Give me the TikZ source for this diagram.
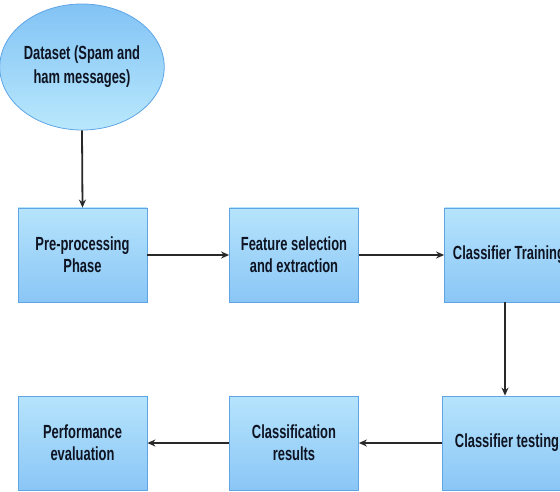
\documentclass[tikz,border=0pt]{standalone}
\usepackage{fontspec}
\setmainfont{Liberation Sans}[FakeStretch=0.68]
\usetikzlibrary{shapes.geometric,arrows.meta}
\definecolor{boxtop}{RGB}{182,228,252}
\definecolor{boxbot}{RGB}{138,198,246}
\definecolor{boxedge}{RGB}{95,165,230}
\definecolor{elltop}{RGB}{130,195,245}
\definecolor{ellbot}{RGB}{185,232,252}
\definecolor{linec}{RGB}{40,40,40}
\definecolor{txtc}{RGB}{15,20,35}
\tikzset{
  procbox/.style={rectangle, draw=boxedge, line width=0.8pt, top color=boxtop, bottom color=boxbot,
    minimum width=129pt, minimum height=94pt, align=center, text=txtc, font=\fontsize{19}{22}\selectfont\bfseries, inner sep=0pt},
  dataell/.style={ellipse, draw=boxedge, line width=0.8pt, top color=elltop, bottom color=ellbot,
    minimum width=149pt, minimum height=126pt, align=center, text=txtc, font=\fontsize{19}{24}\selectfont\bfseries, inner sep=0pt},
  conn/.style={draw=linec, line width=1.8pt, -{Stealth[length=8pt,width=7pt]}}
}
\begin{document}
\begin{tikzpicture}[x=1pt,y=-1pt]
\useasboundingbox (0,0) rectangle (560,492);
\clip (0,0) rectangle (560,492);
\node[dataell] (ds) at (82,67) {Dataset (Spam and\\ham messages)};
\node[procbox] (pre) at (82.5,255) {Pre-processing\\Phase};
\node[procbox] (feat) at (294,255) {Feature selection\\and extraction};
\node[procbox] (train) at (509,255) {Classifier Training};
\node[procbox] (test) at (507,443) {Classifier testing};
\node[procbox] (res) at (294,443) {Classification\\results};
\node[procbox] (perf) at (82.5,443) {Performance\\evaluation};
\draw[conn] (ds.south) -- (pre.north);
\draw[conn] (pre.east) -- (feat.west);
\draw[conn] (feat.east) -- (train.west);
\draw[conn] ([xshift=-4pt]train.south) -- ([xshift=-4pt]train.south |- test.north);
\draw[conn] (test.west) -- (res.east);
\draw[conn] (res.west) -- (perf.east);
\end{tikzpicture}
\end{document}
